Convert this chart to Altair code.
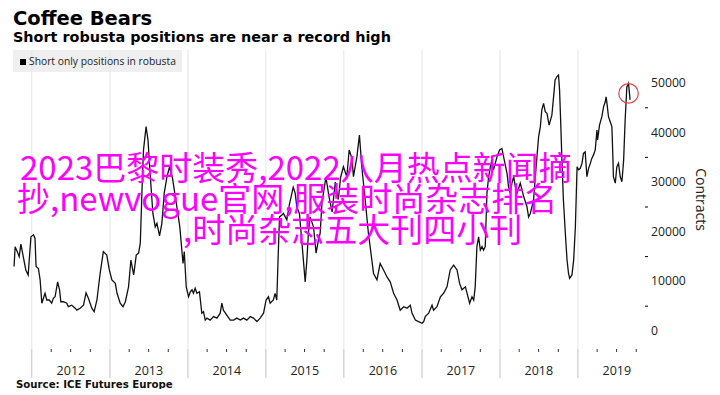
import altair as alt
import pandas as pd

# ---------------- data ----------------
dates = [
    "2011-10-10", "2011-10-15", "2011-10-25", "2011-11-03", "2011-11-11", "2011-11-22", "2011-12-04", "2011-12-15", "2011-12-28",
    "2012-01-09", "2012-01-16", "2012-01-21", "2012-02-01", "2012-02-09", "2012-02-17", "2012-03-03", "2012-03-11", "2012-03-23",
    "2012-04-03", "2012-04-11", "2012-04-19", "2012-05-01", "2012-05-10", "2012-05-16", "2012-05-28", "2012-06-13", "2012-06-20",
    "2012-07-06", "2012-07-22", "2012-07-30", "2012-08-14", "2012-08-30", "2012-09-11", "2012-09-22", "2012-10-08", "2012-10-19",
    "2012-11-01", "2012-11-16", "2012-12-01", "2012-12-17", "2012-12-29",
    "2013-01-10", "2013-01-26", "2013-02-03", "2013-02-18", "2013-03-03", "2013-03-14", "2013-03-29", "2013-04-09", "2013-04-22",
    "2013-05-04", "2013-05-15", "2013-05-23", "2013-05-31", "2013-06-07", "2013-06-19", "2013-06-28", "2013-07-09", "2013-07-21",
    "2013-08-01", "2013-08-09", "2013-08-21", "2013-09-01", "2013-09-12", "2013-09-25", "2013-10-07", "2013-10-20", "2013-11-07",
    "2013-11-24", "2013-12-09", "2013-12-15", "2013-12-24",
    "2014-01-04", "2014-01-12", "2014-01-20", "2014-01-27", "2014-02-04", "2014-02-12", "2014-02-24", "2014-03-07", "2014-03-15",
    "2014-03-23", "2014-03-31", "2014-04-15", "2014-05-01", "2014-05-17", "2014-06-01", "2014-06-09", "2014-06-16", "2014-07-02",
    "2014-07-18", "2014-08-03", "2014-08-18", "2014-09-03", "2014-09-18", "2014-10-04", "2014-10-20", "2014-11-04", "2014-11-20",
    "2014-12-05", "2014-12-21",
    "2015-01-02", "2015-01-13", "2015-01-21", "2015-02-05", "2015-02-13", "2015-02-21", "2015-03-01", "2015-03-06", "2015-03-17",
    "2015-03-24", "2015-04-09", "2015-04-21", "2015-05-09", "2015-05-18", "2015-05-26", "2015-06-07", "2015-06-19", "2015-07-04",
    "2015-07-12", "2015-07-19", "2015-07-27", "2015-08-12", "2015-08-24", "2015-09-04", "2015-09-12", "2015-09-21", "2015-10-09",
    "2015-10-24", "2015-11-07", "2015-11-22", "2015-12-06", "2015-12-17", "2015-12-30",
    "2016-01-15", "2016-01-26", "2016-02-08", "2016-02-15", "2016-03-02", "2016-03-14", "2016-03-25", "2016-04-10", "2016-04-25",
    "2016-05-07", "2016-05-19", "2016-06-04", "2016-06-19", "2016-07-05", "2016-07-21", "2016-08-05", "2016-08-21", "2016-09-06",
    "2016-09-21", "2016-10-07", "2016-10-23", "2016-11-07", "2016-11-15", "2016-12-01", "2016-12-16",
    "2017-01-01", "2017-01-09", "2017-01-16", "2017-02-01", "2017-02-17", "2017-02-24", "2017-03-12", "2017-03-28", "2017-04-12",
    "2017-04-28", "2017-05-13", "2017-05-29", "2017-06-14", "2017-06-26", "2017-07-07", "2017-07-23", "2017-07-31", "2017-08-12",
    "2017-08-23", "2017-08-31", "2017-09-07", "2017-09-15", "2017-09-23", "2017-10-01", "2017-10-09", "2017-10-16", "2017-10-24",
    "2017-11-01", "2017-11-09", "2017-11-17", "2017-11-24", "2017-12-02", "2017-12-18", "2017-12-30",
    "2018-01-10", "2018-01-18", "2018-02-03", "2018-02-10", "2018-02-18", "2018-02-26", "2018-03-06", "2018-03-14", "2018-03-22",
    "2018-04-06", "2018-04-22", "2018-05-07", "2018-05-15", "2018-05-23", "2018-05-31", "2018-06-07", "2018-06-23", "2018-07-01",
    "2018-07-09", "2018-07-16", "2018-07-24", "2018-08-01", "2018-08-09", "2018-08-19", "2018-09-01", "2018-09-09", "2018-09-16",
    "2018-09-25", "2018-10-02", "2018-10-07", "2018-10-13", "2018-10-18", "2018-10-25", "2018-11-03", "2018-11-11", "2018-11-18",
    "2018-11-23", "2018-12-04", "2018-12-12", "2018-12-20", "2018-12-28",
    "2019-01-04", "2019-01-12", "2019-01-20", "2019-01-27", "2019-02-04", "2019-02-12", "2019-02-20", "2019-02-28", "2019-03-07",
    "2019-03-15", "2019-03-23", "2019-03-31", "2019-04-03", "2019-04-12", "2019-04-23", "2019-05-01", "2019-05-09", "2019-05-13",
    "2019-05-17", "2019-05-24", "2019-06-01", "2019-06-09", "2019-06-14", "2019-06-16", "2019-06-25", "2019-07-02", "2019-07-10",
    "2019-07-18", "2019-07-26", "2019-08-03", "2019-08-10", "2019-08-18", "2019-08-26", "2019-09-02",
]

short_positions = [
    13000, 17000, 16000, 15000, 17500, 15000, 12300, 11300, 19000,
    19400, 18700, 13000, 12600, 10300, 5600, 7600, 6250, 6250, 5600, 6600, 6900, 9900, 8300, 5900, 5900, 5600, 4900,
    5200, 4600, 4200, 4600, 5200, 7700, 6600, 4600, 3900, 6250, 11600, 16000, 15300, 12300,
    10300, 9600, 7600, 5600, 4900, 5900, 8900, 14300, 11300, 15300, 15700, 17700, 28400, 36500, 41200, 38500,
    31100, 23700, 21000, 21700, 19200, 21700, 27800, 31100, 33100, 31000, 26000, 21000, 13600, 16000, 8900,
    6900, 7900, 8300, 7600, 8600, 7600, 7900, 3600, 3900, 2200, 2600, 2200, 2900, 2600, 3600, 5600, 4200,
    3200, 2200, 2200, 2600, 2200, 2600, 2200, 2900, 2600, 1900, 2600, 3600,
    6250, 6900, 5600, 6250, 7600, 6250, 17000, 23000, 23400, 23700, 22400, 25500, 29000, 27800, 25000, 23700,
    17700, 9900, 14300, 19700, 23000, 21000, 15700, 18300, 19700, 26000, 31000, 27000, 24000, 30000, 26500, 31000, 33100,
    31100, 36500, 34800, 31100, 35100, 39500, 33100, 26400, 19700, 15700, 11600, 10300, 13600, 12300, 10900,
    9900, 7600, 6250, 4200, 4900, 4600, 5200, 3600, 2200, 1900,
    1550, 1900, 2900, 3600, 5200, 4200, 4900, 6900, 7600, 8900, 12300, 13300, 12300, 9600, 8300, 8900, 7600,
    5600, 6900, 6250, 8900, 17000, 19000, 16300, 17000, 16300, 17000, 27800, 31100, 33100, 34500, 32500, 35100, 36500,
    36800, 35100, 31800, 29100, 27800, 29800, 31100, 29100, 27800, 29800, 27100, 25100, 23000, 23700, 25100, 26400,
    35100, 39200, 41200, 44600, 45900, 44200, 43900, 41500, 43500, 47200, 50600, 51300, 51600, 48600, 41200, 34500,
    26400, 19700, 14300, 11600, 10600, 11300, 14300, 21000, 33100,
    32500, 32800, 33800, 35800, 36100, 31100, 32800, 33800, 34800, 35500, 36500, 40500, 38500, 41500, 43200, 45200,
    46200, 47200, 45900, 43200, 42200, 41200, 34500, 31100, 29800, 33100, 33800, 31100, 30100, 34500, 42500, 49200,
    49900, 46600,
]

years = ["2012", "2013", "2014", "2015", "2016", "2017", "2018", "2019"]
y_ticks = [0, 10000, 20000, 30000, 40000, 50000]
y_tick_labels = ["0", "10000", "20000", "30000", "40000", "50000"]
y_minor = [5000, 15000, 25000, 35000, 45000]
highlight_date = ["2019-08-26"]
highlight_value = [47900]

title_text = "Coffee Bears"
subtitle_text = "Short robusta positions are near a record high"
legend_text = "Short only positions in robusta"
source_text = "Source: ICE Futures Europe"
y_title = "Contracts"
watermark_lines = [
    "2023巴黎时装秀,2022八月热点新闻摘",
    "抄,newvogue官网,服装时尚杂志排名",
    ",时尚杂志五大刊四小刊",
]

# ---------------- tables ----------------
df = pd.DataFrame({"date": pd.to_datetime(dates), "value": short_positions})
year_df = pd.DataFrame({"date": pd.to_datetime([f"{y}-01-01" for y in years])})
year_lbl_df = pd.DataFrame({"date": pd.to_datetime([f"{y}-07-02" for y in years]), "label": years})
quarter_df = pd.DataFrame({"date": pd.to_datetime([f"{y}-{m:02d}-01" for y in years for m in (4, 7, 10)])})
ytick_df = pd.DataFrame({"v": y_ticks, "label": y_tick_labels})
minor_df = pd.DataFrame({"v": y_minor})
hl_df = pd.DataFrame({"date": pd.to_datetime(highlight_date), "value": highlight_value})
one = pd.DataFrame({"k": [0]})

W, H = 632, 299
LABEL_FONT = "Open Sans"
BOLD_FONT = "DejaVu Sans"

x_scale = alt.Scale(domain=[alt.DateTime(year=2011, month=10, date=5),
                            alt.DateTime(year=2019, month=11, date=11)])
y_scale = alt.Scale(domain=[-3630, 56650], nice=False, zero=False)

x_axis = alt.Axis(title=None, labels=False, ticks=False, grid=False,
                  domainColor="#000000", domainWidth=1)
y_axis = alt.Axis(orient="right", values=y_ticks, title=None, labels=False,
                  grid=True, gridColor="#e6e6e6", gridWidth=1,
                  ticks=True, tickColor="#000000", tickSize=4, domainColor="#000000")

legend_box = alt.Chart(one).mark_rect(color="#efefef").encode(
    x=alt.value(0), x2=alt.value(169), y=alt.value(0), y2=alt.value(22))

vgrid = alt.Chart(year_df).mark_rule(color="#e6e6e6", strokeWidth=1).encode(
    x=alt.X("date:T", scale=x_scale, axis=None), y=alt.value(0), y2=alt.value(H))

separators = alt.Chart(year_df).mark_rule(color="#c2c2c2", strokeWidth=1).encode(
    x=alt.X("date:T", scale=x_scale, axis=None), y=alt.value(H), y2=alt.value(H + 29))

qticks = alt.Chart(quarter_df).mark_rule(color="#333333", strokeWidth=1).encode(
    x=alt.X("date:T", scale=x_scale, axis=None), y=alt.value(H), y2=alt.value(H + 3))

yminor = alt.Chart(minor_df).mark_rule(color="#000000", strokeWidth=1).encode(
    y=alt.Y("v:Q", scale=y_scale, axis=None), x=alt.value(W), x2=alt.value(W + 3))

line = alt.Chart(df).mark_line(color="#111111", strokeWidth=1.3).encode(
    x=alt.X("date:T", scale=x_scale, axis=x_axis),
    y=alt.Y("value:Q", scale=y_scale, axis=y_axis))

circle = alt.Chart(hl_df).mark_point(shape="circle", size=380, filled=False,
                                     stroke="#e0474c", strokeWidth=1.2, opacity=1).encode(
    x=alt.X("date:T", scale=x_scale, axis=None),
    y=alt.Y("value:Q", scale=y_scale, axis=None))

year_labels = alt.Chart(year_lbl_df).mark_text(
    align="center", baseline="middle", font=LABEL_FONT, fontSize=12.5, color="#222222").encode(
    x=alt.X("date:T", scale=x_scale, axis=None), y=alt.value(H + 22), text="label:N")

y_labels = alt.Chart(ytick_df).mark_text(
    align="left", baseline="middle", font=LABEL_FONT, fontSize=12.2, color="#222222").encode(
    y=alt.Y("v:Q", scale=y_scale, axis=None), x=alt.value(W + 6), text="label:N")


def text_layer(txt, x, y, **kw):
    return alt.Chart(one).mark_text(align="left", baseline="alphabetic", **kw).encode(
        x=alt.value(x), y=alt.value(y), text=alt.value(txt))


y_title_mark = alt.Chart(one).mark_text(
    align="center", baseline="middle", angle=90, font=LABEL_FONT, fontSize=14, color="#222222").encode(
    x=alt.value(W + 55), y=alt.value(H / 2), text=alt.value(y_title))

title = text_layer(title_text, 0, -25.5, font=BOLD_FONT, fontSize=19.5, fontWeight="bold", color="#000000")
subtitle = text_layer(subtitle_text, 0, -8, font=BOLD_FONT, fontSize=14.4, fontWeight="bold", color="#000000")
legend_sq = alt.Chart(one).mark_rect(color="#000000").encode(
    x=alt.value(7), x2=alt.value(13), y=alt.value(9), y2=alt.value(15))
legend_lbl = text_layer(legend_text, 16, 15, font=LABEL_FONT, fontSize=10.3, color="#222222")
source = text_layer(source_text, 3, 337.5, font=BOLD_FONT, fontSize=10.2, fontWeight="bold", color="#111111")

wm_pos = [(7, 130), (4, 161), (170, 192)]
watermark = [text_layer(t, px, py, font="Noto Sans CJK SC", fontSize=33, color="#ff00ff")
             for t, (px, py) in zip(watermark_lines, wm_pos)]

chart = alt.layer(
    legend_box, vgrid, separators, qticks, yminor, line, circle,
    year_labels, y_labels, y_title_mark,
    title, subtitle, legend_sq, legend_lbl, source, *watermark
).properties(
    width=W, height=H,
    autosize=alt.AutoSizeParams(type="none"),
    padding={"left": 5, "top": 42, "right": 67, "bottom": 40},
    background="white",
).configure_view(stroke=None)

chart.save("out.html", embed_options={"renderer": "svg", "actions": False})
